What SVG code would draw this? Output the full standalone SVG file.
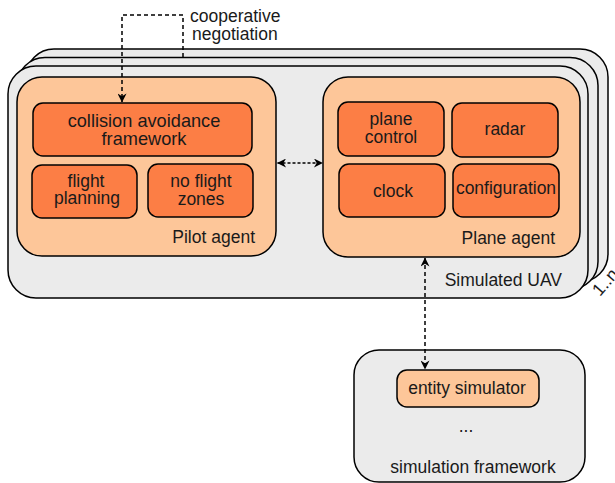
<svg xmlns="http://www.w3.org/2000/svg" width="615" height="483" viewBox="0 0 615 483">
  <style>
    .frame { fill: #ebebeb; stroke: #000; stroke-width: 1.5; }
    .agent { fill: #fdc699; stroke: #000; stroke-width: 1.5; }
    .comp  { fill: #fc7e45; stroke: #000; stroke-width: 1.5; }
    .sim   { fill: #fdc699; stroke: #000; stroke-width: 1.5; }
    text { font-family: "Liberation Sans", Arial, sans-serif; font-size: 17.5px; fill: #1a1a1a; }
    .big { font-size: 18.2px; }
    .c { text-anchor: middle; }
    .r { text-anchor: end; }
    .dash { fill: none; stroke: #000; stroke-width: 1.5; stroke-dasharray: 4 3; }
    .dot  { fill: none; stroke: #000; stroke-width: 1.5; stroke-dasharray: 3 2; }
  </style>
  <defs>
    <marker id="arrow" viewBox="0 0 10 10" refX="9.5" refY="5" markerWidth="10" markerHeight="9" markerUnits="userSpaceOnUse" orient="auto-start-reverse">
      <path d="M0,0 L10,5 L0,10 L3,5 z" fill="#000"/>
    </marker>
  </defs>

  <!-- stacked UAV instances (1..n) -->
  <g id="uav-stack">
    <rect class="frame" x="26" y="49" width="582" height="233" rx="28"/>
    <rect class="frame" x="17" y="57.5" width="581" height="232" rx="28"/>
  </g>

  <g id="simulated-uav">
    <rect class="frame" x="8" y="66" width="580" height="232" rx="28"/>
    <text x="562" y="286" class="r">Simulated UAV</text>
    <text transform="translate(600,297) rotate(-49)" font-size="14">1..n</text>
  </g>

  <g id="pilot-agent">
    <rect class="agent" x="17" y="77" width="259" height="179" rx="25"/>
    <text x="255" y="243" class="r">Pilot agent</text>
  </g>

  <g id="collision-avoidance">
    <rect class="comp" x="33" y="103" width="219" height="53" rx="10"/>
    <text x="144" y="127" class="c big">collision avoidance</text>
    <text x="144" y="144.5" class="c big">framework</text>
  </g>

  <g id="flight-planning">
    <rect class="comp" x="32" y="165" width="105" height="53" rx="10"/>
    <text x="86" y="187" class="c">flight</text>
    <text x="87" y="204" class="c">planning</text>
  </g>

  <g id="no-flight-zones">
    <rect class="comp" x="148" y="164" width="105" height="53" rx="10"/>
    <text x="201" y="187" class="c">no flight</text>
    <text x="201" y="204.5" class="c">zones</text>
  </g>

  <g id="plane-agent">
    <rect class="agent" x="323" y="77" width="257" height="180" rx="25"/>
    <text x="555" y="244" class="r">Plane agent</text>
  </g>

  <g id="plane-control">
    <rect class="comp" x="338" y="102" width="106" height="54" rx="10"/>
    <text x="391" y="125" class="c">plane</text>
    <text x="391" y="142.5" class="c">control</text>
  </g>

  <g id="radar">
    <rect class="comp" x="452" y="103" width="106" height="54" rx="10"/>
    <text x="505" y="135" class="c">radar</text>
  </g>

  <g id="clock">
    <rect class="comp" x="339" y="164" width="106" height="53" rx="10"/>
    <text x="393" y="197" class="c">clock</text>
  </g>

  <g id="configuration">
    <rect class="comp" x="453" y="164" width="106" height="53" rx="10"/>
    <text x="506" y="194" class="c">configuration</text>
  </g>

  <g id="simulation-framework">
    <rect class="frame" x="354" y="350" width="231" height="132" rx="25"/>
    <text x="466" y="432" class="c" font-size="19">...</text>
    <text x="473" y="473" class="c">simulation framework</text>
  </g>

  <g id="entity-simulator">
    <rect class="sim" x="397" y="370" width="142" height="37" rx="10"/>
    <text x="467" y="394" class="c">entity simulator</text>
  </g>

  <g id="connectors">
    <path class="dash" d="M183,57 V15 H122 V102" marker-end="url(#arrow)"/>
    <path class="dot" d="M277.5,163 H322.5" marker-start="url(#arrow)" marker-end="url(#arrow)"/>
    <path class="dash" d="M425,258 V369" marker-start="url(#arrow)" marker-end="url(#arrow)"/>
  </g>

  <g id="negotiation-label">
    <text x="190" y="22">cooperative</text>
    <text x="192" y="40">negotiation</text>
  </g>
</svg>
